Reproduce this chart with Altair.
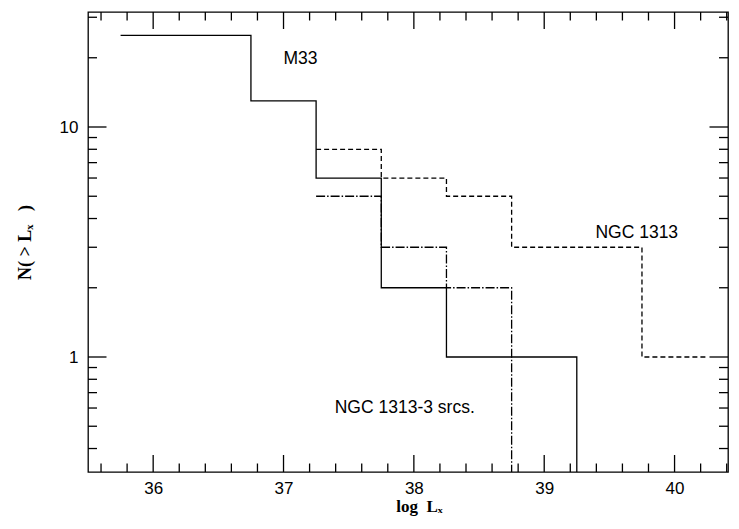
import altair as alt
import pandas as pd

# ---- data ----
m33_x = [35.75, 36.75, 37.25, 37.75, 38.25, 39.25]
m33_n = [25, 13, 6, 2, 1, 0.1]          # last value: drops to zero (off-axis floor)

n1313_x = [37.25, 37.75, 38.25, 38.75, 39.75, 40.25]
n1313_n = [8, 6, 5, 3, 1, 1]

n1313b_x = [37.25, 37.75, 38.25, 38.75]
n1313b_n = [5, 3, 2, 0.1]               # last value: drops to zero (off-axis floor)

label_text = ["M33", "NGC 1313", "NGC 1313-3 srcs."]
label_x = [37.13, 39.71, 37.93]
label_y = [19.7, 3.45, 0.60]

x_major = [36, 37, 38, 39, 40]
x_minor = [35.6, 35.8, 36.2, 36.4, 36.6, 36.8, 37.2, 37.4, 37.6, 37.8,
           38.2, 38.4, 38.6, 38.8, 39.2, 39.4, 39.6, 39.8, 40.2, 40.4]
y_major = [1, 10]
y_minor = [0.4, 0.5, 0.6, 0.7, 0.8, 0.9, 2, 3, 4, 5, 6, 7, 8, 9, 20, 30]

X_DOM = [35.5, 40.41]
Y_DOM = [10 ** -0.5, 10 ** 1.5]
W, H = 640, 460
NB = "\u00a0"

xs = alt.Scale(domain=X_DOM, nice=False, zero=False)
ys = alt.Scale(type="log", domain=Y_DOM, nice=False)

def series(xv, nv, name):
    return pd.DataFrame({"x": xv, "n": nv, "s": name})

df_m33 = series(m33_x, m33_n, "M33")
df_1313 = series(n1313_x, n1313_n, "NGC 1313")
df_1313b = series(n1313b_x, n1313b_n, "NGC 1313-3")

xaxis = alt.Axis(values=x_major, format="d", ticks=False, tickSize=0, domain=False,
                 grid=False, labelFont="Liberation Sans", labelFontSize=17,
                 labelColor="black", labelPadding=8,
                 title="log" + NB * 2 + "Lₓ", titleFont="Liberation Serif",
                 titleFontSize=17, titleFontWeight="bold", titleColor="black",
                 titleX=331, titleY=34, titleBaseline="middle", titleAlign="center")
yaxis = alt.Axis(values=y_major, format="d", ticks=False, tickSize=0, domain=False,
                 grid=False, labelFont="Liberation Sans", labelFontSize=17,
                 labelColor="black", labelPadding=10,
                 title="N(" + NB + ">" + NB + "Lₓ" + NB * 3 + ")",
                 titleFont="Liberation Serif", titleFontSize=18, titleFontWeight="bold",
                 titleColor="black", titleAngle=270, titleX=-63, titleY=230,
                 titleBaseline="middle", titleAlign="center")

def step_line(df, dash=None):
    kw = dict(interpolate="step-after", color="black", strokeWidth=1.3, clip=True)
    if dash:
        kw["strokeDash"] = dash
    return alt.Chart(df).mark_line(**kw).encode(
        x=alt.X("x:Q", scale=xs, axis=xaxis),
        y=alt.Y("n:Q", scale=ys, axis=yaxis),
        order="x:Q",
    )

l_m33 = step_line(df_m33)
l_1313 = step_line(df_1313, [5, 3])
l_1313b = step_line(df_1313b, [9, 2, 1.5, 2])

tick_style = dict(color="black", strokeWidth=1.3)

def xticks(vals, length):
    d = pd.DataFrame({"x": vals})
    bot = alt.Chart(d).mark_rule(**tick_style).encode(
        x=alt.X("x:Q", scale=xs), y=alt.value(H), y2=alt.value(H - length))
    top = alt.Chart(d).mark_rule(**tick_style).encode(
        x=alt.X("x:Q", scale=xs), y=alt.value(0), y2=alt.value(length))
    return [bot, top]

def yticks(vals, length):
    d = pd.DataFrame({"n": vals})
    left = alt.Chart(d).mark_rule(**tick_style).encode(
        y=alt.Y("n:Q", scale=ys), x=alt.value(0), x2=alt.value(length))
    right = alt.Chart(d).mark_rule(**tick_style).encode(
        y=alt.Y("n:Q", scale=ys), x=alt.value(W), x2=alt.value(W - length))
    return [left, right]

ticks = xticks(x_major, 17) + xticks(x_minor, 8.5) + yticks(y_major, 18.5) + yticks(y_minor, 9)

labels = alt.Chart(pd.DataFrame({"t": label_text, "x": label_x, "n": label_y})).mark_text(
    font="Liberation Sans", fontSize=17.5, color="black", align="center", baseline="middle"
).encode(x=alt.X("x:Q", scale=xs), y=alt.Y("n:Q", scale=ys), text="t:N")

chart = alt.layer(l_m33, l_1313, l_1313b, labels, *ticks).properties(
    width=W, height=H,
    autosize=alt.AutoSizeParams(type="none"),
    padding={"left": 80, "top": 4, "right": 2, "bottom": 45},
    background="white",
).configure_view(stroke="black", strokeWidth=1.3)

chart.save("out.html", embed_options={"renderer": "svg", "actions": False})
